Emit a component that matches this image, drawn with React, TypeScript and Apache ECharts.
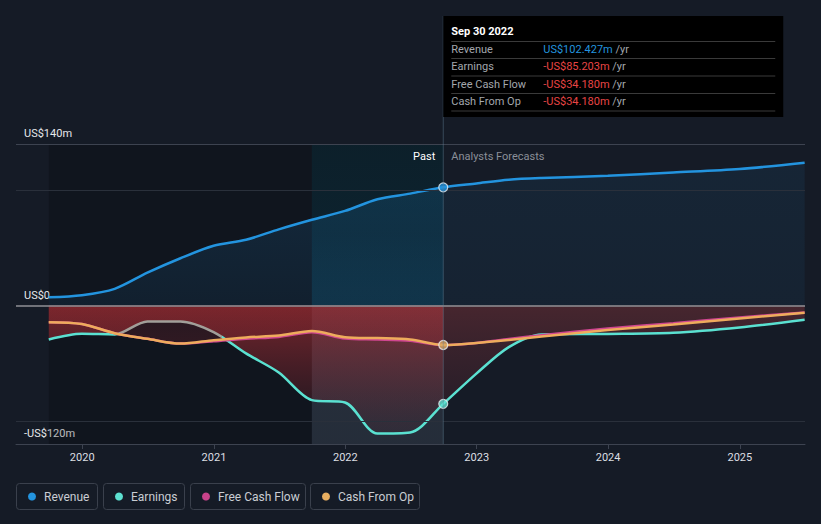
import React, { useEffect, useRef } from 'react';
import * as echarts from 'echarts';

// ---------- data ----------
const dates = [
  '2019-09-30', '2019-12-31', '2020-03-31', '2020-06-30', '2020-09-30', '2020-12-31',
  '2021-03-31', '2021-06-30', '2021-09-30', '2021-12-31', '2022-03-31', '2022-06-30',
  '2022-09-30',
  '2022-12-31', '2023-03-31', '2023-06-30', '2023-12-31', '2024-06-30', '2024-12-31', '2025-06-30',
];
const CURRENT_INDEX = 12; // Sep 30 2022, last reported point
const BAND_START_INDEX = 8; // Sep 30 2021

const revenue = [7.2, 9, 14.5, 28.5, 41, 51.8, 57, 66, 74.3, 82, 92.1, 97, 102.427, 105.8, 109, 110.5, 112.5, 115.3, 118.3, 123.8];
const earnings = [-29.4, -24.5, -25, -13.8, -13.8, -23, -41.5, -58, -82, -84, -111, -110, -85.203, -59, -36, -25, -24.6, -23.6, -19, -12.3];
const freeCashFlow = [-14.4, -16, -24, -28.8, -33, -31, -28.8, -27.2, -23.2, -28.6, -29.4, -30.6, -34.18, -32.4, -29.0, -25.8, -20.0, -15.3, -10.4, -6.0];
const cashFromOp = [-14.4, -16, -24, -28.8, -33, -30, -27.6, -26, -22, -27.4, -28.2, -29.4, -34.18, -32.4, -29.8, -26.8, -21.2, -16.4, -11.2, -6.3];

const earningsGreyFrom = '2020-04-07';
const earningsGreyTo = '2021-01-24';

const xMin = '2019-07-01';
const xMax = '2025-07-01';
const yMin = -120;
const yMax = 140;
const yInterval = 20;
const yLabels: Record<string, string> = { '140': 'US$140m', '0': 'US$0', '-120': '-US$120m' };
const gridLines = [100, -100];

const tooltipTitle = 'Sep 30 2022';
const tooltipRows = [
  { label: 'Revenue', value: 'US$102.427m', color: '#2394df' },
  { label: 'Earnings', value: '-US$85.203m', color: '#e84545' },
  { label: 'Free Cash Flow', value: '-US$34.180m', color: '#e84545' },
  { label: 'Cash From Op', value: '-US$34.180m', color: '#e84545' },
];

const COLORS = {
  revenue: '#2394df',
  earnings: '#5ae1d1',
  grey: '#a19f99',
  fcf: '#cf4690',
  cfo: '#eeac5c',
};

const legendItems = [
  { name: 'Revenue', color: '#2394df' },
  { name: 'Earnings', color: '#5de0d0' },
  { name: 'Free Cash Flow', color: '#c8428a' },
  { name: 'Cash From Op', color: '#e8ae60' },
];

// ---------- helpers ----------
const ts = (d: string) => new Date(d + 'T00:00:00Z').getTime();
const zip = (vals: number[], from = 0, to = vals.length) =>
  vals.slice(from, to).map((v, i) => [ts(dates[from + i]), v]);

const FONT = 'Roboto, "Noto Sans", sans-serif';
const vGrad = (stops: [number, string][]) =>
  new echarts.graphic.LinearGradient(0, 0, 0, 1, stops.map(([offset, color]) => ({ offset, color })));

export default function App() {
  const ref = useRef<HTMLDivElement>(null);

  useEffect(() => {
    const el = ref.current!;
    const chart = echarts.init(el, null, { renderer: 'svg' });

    const smooth = 0.3;
    const lineBase = {
      type: 'line' as const,
      smooth,
      symbol: 'none',
      silent: true,
    };
    const areaBase = {
      type: 'line' as const,
      smooth,
      symbol: 'none',
      silent: true,
      lineStyle: { width: 0 },
      z: 2,
    };

    const option: any = {
      animation: false,
      backgroundColor: '#151b26',
      textStyle: { fontFamily: FONT },
      grid: { left: 16, right: 16, top: 144, bottom: 80 },
      xAxis: {
        type: 'time',
        min: ts(xMin),
        max: ts(xMax),
        splitNumber: 6,
        minInterval: 365 * 24 * 3600 * 1000,
        axisLine: { onZero: false, lineStyle: { color: '#3d4350', width: 1 } },
        axisTick: { show: true, length: 5, lineStyle: { color: '#3d4350' } },
        splitLine: { show: false },
        axisLabel: {
          color: '#dcdfe3',
          fontSize: 11,
          fontFamily: FONT,
          margin: 8,
          showMinLabel: false,
          showMaxLabel: false,
          formatter: (v: number) => String(new Date(v).getUTCFullYear()),
        },
      },
      yAxis: {
        type: 'value',
        min: yMin,
        max: yMax,
        interval: yInterval,
        axisLine: { show: false },
        axisTick: { show: false },
        splitLine: { show: false },
        axisLabel: {
          inside: true,
          margin: 8,
          verticalAlign: 'bottom',
          padding: [0, 0, 5, 0],
          color: '#e6e8eb',
          fontSize: 11,
          fontFamily: FONT,
          showMinLabel: true,
          showMaxLabel: true,
          formatter: (v: number) => yLabels[String(v)] ?? '',
        },
      },
      visualMap: [
        {
          type: 'piecewise',
          show: false,
          seriesIndex: 1,
          dimension: 0,
          pieces: [
            { lt: ts(earningsGreyFrom), color: COLORS.earnings },
            { gte: ts(earningsGreyFrom), lt: ts(earningsGreyTo), color: COLORS.grey },
            { gte: ts(earningsGreyTo), color: COLORS.earnings },
          ],
        },
      ],
      series: [
        { ...lineBase, name: 'Revenue', data: zip(revenue), lineStyle: { color: COLORS.revenue, width: 2.5 }, itemStyle: { color: COLORS.revenue }, z: 4 },
        { ...lineBase, name: 'Earnings', data: zip(earnings), lineStyle: { width: 2.5 }, z: 4 },
        { ...lineBase, name: 'Free Cash Flow', data: zip(freeCashFlow), lineStyle: { color: COLORS.fcf, width: 2.5 }, itemStyle: { color: COLORS.fcf }, z: 4 },
        { ...lineBase, name: 'Cash From Op', data: zip(cashFromOp), lineStyle: { color: COLORS.cfo, width: 2.5 }, itemStyle: { color: COLORS.cfo }, z: 4 },
        // areas
        {
          ...areaBase, name: 'revArea1', data: zip(revenue, 0, CURRENT_INDEX + 1),
          areaStyle: { color: vGrad([[0, 'rgba(35,148,223,0.22)'], [1, 'rgba(35,148,223,0.12)']]) },
        },
        {
          ...areaBase, name: 'revArea2', data: zip(revenue, CURRENT_INDEX),
          areaStyle: { color: vGrad([[0, 'rgba(35,148,223,0.12)'], [1, 'rgba(35,148,223,0.09)']]) },
        },
        {
          ...areaBase, name: 'earnArea1', data: zip(earnings, 0, CURRENT_INDEX + 1),
          areaStyle: { color: vGrad([[0, 'rgba(195,50,55,0.82)'], [1, 'rgba(150,40,50,0.12)']]) },
        },
        {
          ...areaBase, name: 'earnArea2', data: zip(earnings, CURRENT_INDEX),
          areaStyle: { color: vGrad([[0, 'rgba(150,55,60,0.55)'], [1, 'rgba(130,45,55,0.25)']]) },
        },
        {
          ...areaBase, name: 'cfoArea1', data: zip(cashFromOp, 0, CURRENT_INDEX + 1),
          areaStyle: { color: vGrad([[0, 'rgba(150,40,45,0.2)'], [1, 'rgba(130,35,45,0.4)']]) },
        },
        // marks below
        {
          type: 'line', name: 'marksBelow', data: [], z: 1, silent: true,
          markArea: {
            silent: true,
            itemStyle: { color: 'rgba(0,0,0,0.2)' },
            data: [[{ xAxis: ts(dates[0]) }, { xAxis: ts(dates[BAND_START_INDEX]) }]],
          },
          markLine: {
            silent: true,
            symbol: ['none', 'none'],
            label: { show: false },
            data: [
              { yAxis: yMax, lineStyle: { color: '#3d4350', width: 1, type: 'solid' } },
              ...gridLines.map((v) => ({ yAxis: v, lineStyle: { color: '#2a303b', width: 1, type: 'solid' } })),
            ],
          },
        },
        // marks above areas
        {
          type: 'line', name: 'marksAbove', data: [], z: 3, silent: true,
          markArea: {
            silent: true,
            itemStyle: {
              color: vGrad([
                [0, 'rgba(0,38,48,0.42)'],
                [0.3, 'rgba(0,45,58,0.4)'],
                [0.535, 'rgba(0,85,115,0.28)'],
                [0.537, 'rgba(120,140,160,0.18)'],
                [1, 'rgba(120,140,160,0.16)'],
              ]),
            },
            data: [[{ xAxis: ts(dates[BAND_START_INDEX]) }, { xAxis: ts(dates[CURRENT_INDEX]) }]],
          },
          markLine: {
            silent: true,
            symbol: ['none', 'none'],
            label: { show: false },
            data: [{ yAxis: 0, lineStyle: { color: '#8f9096', width: 1.5, type: 'solid' } }],
          },
        },
        // current points
        {
          type: 'scatter', name: 'current', z: 6, silent: true,
          symbolSize: 9,
          data: [
            { value: [ts(dates[CURRENT_INDEX]), revenue[CURRENT_INDEX]], itemStyle: { color: COLORS.revenue } },
            { value: [ts(dates[CURRENT_INDEX]), cashFromOp[CURRENT_INDEX]], itemStyle: { color: '#d9a862' } },
            { value: [ts(dates[CURRENT_INDEX]), earnings[CURRENT_INDEX]], itemStyle: { color: COLORS.earnings } },
          ],
          itemStyle: { borderColor: '#e8ecf0', borderWidth: 1.2 },
        },
      ],
    };

    chart.setOption(option);

    const lx = chart.convertToPixel({ xAxisIndex: 0 }, ts(dates[CURRENT_INDEX])) as number;
    const yBottom = chart.convertToPixel({ yAxisIndex: 0 }, yMin) as number;
    const yTop = chart.convertToPixel({ yAxisIndex: 0 }, yMax) as number;

    const boxTop = 16;
    const boxW = 340;
    const boxH = 101;
    const sepY = [41.5, 58.5, 76, 93.5, 111];
    const rowY = [49.5, 66.5, 84, 101.5];

    const graphics: any[] = [
      {
        type: 'line', z: 50, silent: true,
        shape: { x1: lx, y1: boxTop, x2: lx, y2: yBottom },
        style: { stroke: 'rgba(100,130,150,0.45)', lineWidth: 1 },
      },
      {
        type: 'text', z: 50, silent: true, x: lx - 8, y: yTop + 12,
        style: { text: 'Past', fill: '#ffffff', fontSize: 11, fontFamily: FONT, align: 'right', verticalAlign: 'middle' },
      },
      {
        type: 'text', z: 50, silent: true, x: lx + 8, y: yTop + 12,
        style: { text: 'Analysts Forecasts', fill: '#8a8f98', fontSize: 11, fontFamily: FONT, align: 'left', verticalAlign: 'middle' },
      },
      {
        type: 'rect', z: 60, silent: true,
        shape: { x: lx, y: boxTop, width: boxW, height: boxH },
        style: { fill: '#000000' },
      },
      {
        type: 'text', z: 61, silent: true, x: lx + 8, y: 31,
        style: { text: tooltipTitle, fill: '#ffffff', fontSize: 11, fontWeight: 'bold', fontFamily: FONT, align: 'left', verticalAlign: 'middle' },
      },
      ...sepY.map((y) => ({
        type: 'line', z: 61, silent: true,
        shape: { x1: lx + 8, y1: y, x2: lx + boxW - 8, y2: y },
        style: { stroke: '#3a3a3a', lineWidth: 1 },
      })),
      ...tooltipRows.flatMap((r, i) => [
        {
          type: 'text', z: 61, silent: true, x: lx + 8, y: rowY[i],
          style: { text: r.label, fill: '#a3a7ad', fontSize: 11, fontFamily: FONT, align: 'left', verticalAlign: 'middle' },
        },
        {
          type: 'text', z: 61, silent: true, x: lx + 100, y: rowY[i],
          style: {
            text: `{v|${r.value}} {u|/yr}`,
            fontSize: 11, fontFamily: FONT, align: 'left', verticalAlign: 'middle',
            rich: {
              v: { fill: r.color, fontSize: 11, fontFamily: FONT },
              u: { fill: '#a3a7ad', fontSize: 11, fontFamily: FONT },
            },
          },
        },
      ]),
    ];

    const legendBoxes = [
      { x: 16, w: 81 },
      { x: 103, w: 81 },
      { x: 190, w: 115 },
      { x: 310, w: 109 },
    ];
    legendItems.forEach((it, i) => {
      const b = legendBoxes[i];
      graphics.push(
        {
          type: 'rect', z: 50, silent: true,
          shape: { x: b.x + 0.5, y: 483.5, width: b.w, height: 26, r: 3 },
          style: { fill: 'none', stroke: '#3a404c', lineWidth: 1 },
        },
        {
          type: 'circle', z: 51, silent: true,
          shape: { cx: b.x + 16, cy: 496.5, r: 4 },
          style: { fill: it.color },
        },
        {
          type: 'text', z: 51, silent: true, x: b.x + 28, y: 496.5,
          style: { text: it.name, fill: '#c9cdd3', fontSize: 12, fontFamily: FONT, align: 'left', verticalAlign: 'middle' },
        },
      );
    });

    chart.setOption({ graphic: graphics });

    return () => chart.dispose();
  }, []);

  return (
    <div
      ref={ref}
      style={{ position: 'absolute', left: 0, top: 0, width: 821, height: 524, background: '#151b26' }}
    />
  );
}
